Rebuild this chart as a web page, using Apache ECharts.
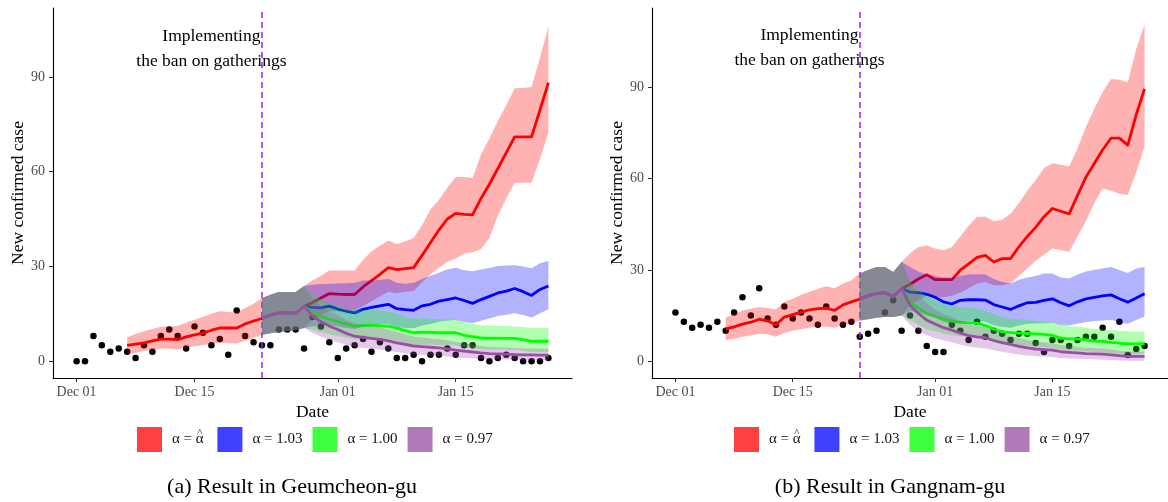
<!DOCTYPE html>
<html>
<head>
<meta charset="utf-8">
<script src="https://cdn.jsdelivr.net/npm/echarts@6/dist/echarts.min.js"></script>
<style>
  html, body { margin: 0; padding: 0; background: #fff; }
  #chart { width: 1168px; height: 502px; }
</style>
</head>
<body>
<div id="chart"></div>
<script>
// Days are counted from Dec 01 (day 0). Observations run to Jan 26 (day 56).
const tickDays = [0, 14, 31, 45];
const tickLabels = ['Dec 01', 'Dec 15', 'Jan 01', 'Jan 15'];
const yTicks = [0, 30, 60, 90];
const scenarioNames = ['α = α̂', 'α = 1.03', 'α = 1.00', 'α = 0.97'];
const banDay = 22;          // Dec 23
const fitStart = 6;         // first day of the fitted curve
const scenarioStart = 22;   // first day of the alternative scenarios

// ---- Geumcheon-gu ----
const geumCases = [0,0,8,5,3,4,3,1,5,3,8,10,8,4,11,9,5,7,2,16,8,6,5,5,10,10,10,4,14,11,6,1,4,5,7,3,6,4,1,1,2,0,2,2,4,2,5,5,1,0,1,2,1,0,0,0,1];

const geumFitMean = [5.0,5.4,5.8,6.4,7.0,7.0,6.8,7.7,8.3,8.9,9.8,10.5,10.5,10.5,11.8,12.7,13.5,14.6,15.3,15.4,15.1,17.4,18.6,20.0,21.4,21.2,21.1,21.1,23.5,25.5,27.5,29.6,29.0,29.3,29.6,33.5,37.5,41.5,45.0,46.8,46.5,46.3,51.5,56.0,61.0,66.0,71.0,71.0,71.0,79.5,88.2];
const geumFitLo = [2.3,2.7,3.2,3.6,4.0,4.0,3.7,4.3,4.7,5.0,5.5,5.8,5.7,5.6,6.5,7.3,8.3,8.8,9.2,9.5,9.8,10.5,13.0,14.5,15.8,15.8,15.8,16.0,17.5,19.0,20.5,22.0,21.5,22.0,22.2,25.0,27.5,29.5,31.5,32.5,34.0,34.5,35.5,39.0,46.0,51.5,56.5,56.5,56.5,64.0,72.3];
const geumFitHi = [7.6,8.6,9.5,10.2,10.9,11.0,11.1,12.2,13.1,14.0,15.0,15.8,15.6,15.3,16.8,18.2,20.0,21.0,21.9,21.9,21.9,23.8,25.5,27.0,28.7,28.7,28.7,28.7,32.0,34.8,36.5,38.2,37.0,38.0,39.0,43.0,48.0,51.0,55.0,58.3,58.3,58.0,65.5,70.5,76.0,81.0,86.4,86.5,86.8,96.0,106.0];

const geumA103Mean = [13.5,14.6,15.3,15.4,15.1,17.4,17.0,16.9,17.4,16.5,15.8,15.3,16.4,17.0,17.5,18.0,16.6,16.3,16.1,17.5,18.0,19.0,19.5,20.0,19.2,18.3,19.5,20.5,21.6,22.2,23.0,22.0,20.8,22.7,23.8];
const geumA103Lo = [8.3,8.8,9.2,9.5,9.8,10.5,11.0,11.2,11.5,11.0,10.5,10.2,10.8,11.2,11.5,11.8,10.8,10.5,10.4,11.3,11.8,12.5,12.8,13.0,12.4,12.0,12.8,13.5,14.3,14.7,15.2,14.6,13.8,15.2,16.4];
const geumA103Hi = [20.0,21.0,21.9,21.9,21.9,23.8,24.2,24.4,24.5,24.6,24.7,24.8,25.5,25.5,25.8,26.0,24.8,24.5,24.8,26.0,27.0,28.0,29.0,29.6,28.8,28.5,29.0,29.5,30.1,30.3,30.4,30.0,29.4,31.0,31.7];

const geumA100Mean = [13.5,14.6,15.3,15.4,15.1,17.4,15.3,14.2,13.2,12.5,11.8,11.1,11.3,11.4,11.2,11.1,10.5,9.7,9.0,9.2,9.1,9.0,9.0,9.0,8.2,7.8,7.4,7.3,7.3,7.2,7.2,6.8,6.3,6.3,6.3];
const geumA100Lo = [8.3,8.8,9.2,9.5,9.8,10.5,10.0,9.2,8.5,8.0,7.5,6.9,7.0,7.1,6.9,6.8,6.3,5.7,5.1,5.3,5.2,5.1,5.0,5.0,4.4,4.1,3.8,3.7,3.7,3.6,3.6,3.3,2.9,2.9,2.9];
const geumA100Hi = [20.0,21.0,21.9,21.9,21.9,23.8,21.0,19.5,18.2,17.5,16.5,16.0,16.2,16.3,16.0,15.8,15.0,14.0,13.5,13.6,13.5,13.3,13.2,13.2,12.3,11.8,11.4,11.3,11.2,11.1,11.0,10.8,10.5,10.5,10.6];

const geumA097Mean = [13.5,14.6,15.3,15.4,15.1,17.4,14.3,12.5,11.1,10.0,8.8,7.9,7.5,7.2,6.9,6.4,5.8,5.3,4.8,4.6,4.4,4.2,3.9,3.5,3.2,2.9,2.6,2.4,2.3,2.2,2.1,2.0,2.0,1.9,1.9];
const geumA097Lo = [8.3,8.8,9.2,9.5,9.8,10.5,9.0,7.8,6.8,6.0,5.2,4.5,4.2,4.0,3.7,3.3,2.9,2.5,2.1,2.0,1.8,1.7,1.5,1.2,1.0,0.9,0.7,0.6,0.6,0.5,0.5,0.4,0.4,0.4,0.4];
const geumA097Hi = [20.0,21.0,21.9,21.9,21.9,23.8,20.0,17.5,15.8,14.5,13.0,12.0,11.5,11.1,10.7,10.0,9.2,8.5,7.8,7.5,7.2,7.0,6.6,6.1,5.7,5.2,4.8,4.5,4.4,4.3,4.2,4.0,4.0,3.9,3.9];

// ---- Gangnam-gu ----
const gangCases = [16,13,11,12,11,13,10,16,21,15,24,14,12,18,14,16,14,12,18,14,12,13,8,9,10,16,20,10,15,10,5,3,3,12,10,7,13,8,10,9,7,9,9,6,3,7,7,5,7,8,8,11,8,13,2,4,5];

const gangFitMean = [10.6,11.3,12.2,12.8,13.8,13.2,12.0,14.5,15.3,16.1,16.9,17.3,17.4,16.7,18.5,19.5,20.4,21.5,22.2,22.5,21.3,23.8,25.3,27.0,28.4,26.8,26.8,26.8,29.9,32.0,34.1,34.8,32.6,33.7,33.7,37.6,41.0,44.0,47.5,50.2,49.3,48.4,54.5,60.5,65.0,69.5,73.3,73.3,71.0,81.0,89.5];
const gangFitLo = [7.0,7.4,8.0,8.4,9.0,8.8,8.0,9.3,10.0,10.5,11.0,11.2,11.4,11.0,12.0,12.5,13.4,13.8,14.3,14.5,14.5,15.0,18.5,20.0,21.5,21.0,21.0,21.5,22.5,24.0,25.5,26.0,25.0,25.0,25.5,28.0,30.5,33.0,35.0,37.0,36.5,36.0,41.0,46.0,52.0,56.8,56.0,55.0,54.6,62.0,70.6];
const gangFitHi = [14.3,15.5,16.7,17.2,17.8,17.5,17.0,19.5,20.5,21.8,22.8,23.8,24.6,24.0,25.5,26.6,28.8,30.0,31.0,31.0,29.3,32.6,35.5,37.5,38.0,37.0,36.5,37.5,41.0,44.5,47.5,47.5,46.0,46.5,48.5,52.0,56.0,59.5,63.5,65.1,64.6,64.0,70.0,77.0,83.0,88.5,92.8,92.5,91.7,102.5,110.6];

const gangA103Mean = [20.4,21.5,22.2,22.5,21.3,23.8,22.7,22.5,22.0,21.0,19.5,18.8,20.0,20.2,20.2,20.1,18.6,17.8,17.0,18.2,19.2,19.3,20.0,20.5,19.2,18.2,19.5,20.5,21.0,21.5,21.8,20.5,19.4,20.8,22.2];
const gangA103Lo = [13.4,13.8,14.3,14.5,14.5,15.0,16.5,16.0,15.3,14.2,13.0,12.3,13.2,13.3,13.2,13.0,11.8,11.2,11.0,11.7,12.3,12.4,12.5,12.6,11.8,11.7,12.3,12.9,13.2,13.4,13.6,12.8,12.3,13.5,14.7];
const gangA103Hi = [28.8,30.0,31.0,31.0,29.3,32.6,31.0,29.5,28.5,28.0,27.5,27.5,28.0,28.5,28.6,28.6,27.0,26.0,25.5,26.8,27.5,28.0,28.8,28.8,27.5,27.2,28.5,29.5,30.0,30.5,31.0,30.0,29.0,30.5,31.0];

const gangA100Mean = [20.4,21.5,22.2,22.5,21.3,23.8,19.5,17.5,15.6,14.8,13.8,13.2,12.8,12.7,12.5,11.7,10.5,9.6,9.4,9.2,9.1,9.0,8.8,8.5,7.6,7.3,7.3,7.0,6.6,6.5,6.2,5.9,5.7,5.7,5.8];
const gangA100Lo = [13.4,13.8,14.3,14.5,14.5,15.0,13.5,12.0,10.5,9.8,9.0,8.5,8.2,8.0,7.8,7.2,6.2,5.5,5.2,5.0,4.9,4.8,4.6,4.4,3.8,3.6,3.5,3.3,3.0,2.9,2.7,2.5,2.4,2.4,2.5];
const gangA100Hi = [28.8,30.0,31.0,31.0,29.3,32.6,26.0,23.5,21.5,20.0,19.0,18.3,17.8,17.5,17.2,16.5,15.5,14.5,14.0,13.8,13.5,13.2,13.0,12.7,11.8,11.5,11.4,11.0,10.6,10.5,10.2,10.0,9.8,9.7,9.8];

const gangA097Mean = [20.4,21.5,22.2,22.5,21.3,23.8,18.5,15.7,13.5,12.2,11.0,10.2,9.2,8.4,8.0,7.7,6.8,6.1,5.5,4.9,4.4,4.0,3.8,3.6,3.1,2.9,2.7,2.5,2.4,2.3,2.1,1.8,1.6,1.6,1.6];
const gangA097Lo = [13.4,13.8,14.3,14.5,14.5,15.0,12.0,10.0,8.5,7.5,6.8,6.2,5.4,4.8,4.4,4.2,3.6,3.1,2.6,2.2,1.9,1.6,1.5,1.4,1.0,0.9,0.8,0.7,0.6,0.5,0.4,0.2,0.1,0.1,0.1];
const gangA097Hi = [28.8,30.0,31.0,31.0,29.3,32.6,26.0,22.0,19.0,17.0,15.5,14.5,13.2,12.2,11.7,11.2,10.0,9.2,8.4,7.6,7.0,6.5,6.2,5.9,5.2,5.0,4.7,4.4,4.3,4.2,3.9,3.5,3.2,3.2,3.2];

// ---- styling ----
const FONT = "'Liberation Serif', 'DejaVu Serif', serif";
const lineColors = ['#ff0000', '#0000ff', '#00ff00', '#9b4ea8'];
const bandColors = ['rgba(255,0,0,0.3)', 'rgba(0,0,255,0.3)', 'rgba(0,255,0,0.3)', 'rgba(155,78,168,0.3)'];
const legendColors = ['#ff4040', '#4040ff', '#40ff40', '#b07ab8'];
const LEGEND_FONT_SIZE = 15;

const panels = [
  {
    cases: geumCases, yMin: -5.33, yMax: 111.8, annoY: 98.7,
    caption: '(a) Result in Geumcheon-gu', captionX: 292, legendLeft: 137,
    grid: { left: 53, top: 8, width: 519, height: 370 },
    sets: [
      { start: fitStart, mean: geumFitMean, lo: geumFitLo, hi: geumFitHi },
      { start: scenarioStart, mean: geumA103Mean, lo: geumA103Lo, hi: geumA103Hi },
      { start: scenarioStart, mean: geumA100Mean, lo: geumA100Lo, hi: geumA100Hi },
      { start: scenarioStart, mean: geumA097Mean, lo: geumA097Lo, hi: geumA097Hi }
    ]
  },
  {
    cases: gangCases, yMin: -5.53, yMax: 116.1, annoY: 103.0,
    caption: '(b) Result in Gangnam-gu', captionX: 890, legendLeft: 734,
    grid: { left: 652, top: 8, width: 518, height: 370 },
    sets: [
      { start: fitStart, mean: gangFitMean, lo: gangFitLo, hi: gangFitHi },
      { start: scenarioStart, mean: gangA103Mean, lo: gangA103Lo, hi: gangA103Hi },
      { start: scenarioStart, mean: gangA100Mean, lo: gangA100Lo, hi: gangA100Hi },
      { start: scenarioStart, mean: gangA097Mean, lo: gangA097Lo, hi: gangA097Hi }
    ]
  }
];

// Uncertainty band: one polygon from the upper bound forward and the lower bound back.
function bandSeries(pi, si, s, z) {
  return {
    name: scenarioNames[si],
    type: 'custom', xAxisIndex: pi, yAxisIndex: pi, z, silent: true,
    data: s.hi.map((v, i) => [s.start + i, s.lo[i], v]),
    encode: { x: 0, y: [1, 2] },
    renderItem: (params, api) => {
      if (params.dataIndex !== 0) return null;
      const top = s.hi.map((v, i) => api.coord([s.start + i, v]));
      const bottom = s.lo.map((v, i) => api.coord([s.start + i, v])).reverse();
      return {
        type: 'polygon',
        shape: { points: top.concat(bottom) },
        style: { fill: bandColors[si] }
      };
    }
  };
}

// Where the hat over the estimated alpha sits in the first legend entry.
const measureCtx = document.createElement('canvas').getContext('2d');
measureCtx.font = LEGEND_FONT_SIZE + "px 'Liberation Serif'";
const hatOffset = 25 + 10 + measureCtx.measureText('α = ').width + measureCtx.measureText('α').width / 2;

const grids = [], xAxes = [], yAxes = [], series = [], legends = [], texts = [];

panels.forEach((p, pi) => {
  grids.push(Object.assign({ containLabel: false }, p.grid));

  xAxes.push({
    type: 'value', gridIndex: pi, min: -2.8, max: 58.8,
    splitLine: { show: false },
    axisLine: { onZero: false, lineStyle: { color: '#000', width: 1.1 } },
    axisTick: { customValues: tickDays, length: 4, lineStyle: { color: '#333', width: 1 } },
    axisLabel: {
      customValues: tickDays, margin: 7, color: '#4d4d4d', fontFamily: FONT, fontSize: 14,
      formatter: v => tickLabels[tickDays.indexOf(Math.round(v))] || ''
    },
    name: 'Date', nameLocation: 'middle', nameGap: 21,
    nameTextStyle: { fontFamily: FONT, fontSize: 17.5, color: '#000' }
  });

  yAxes.push({
    type: 'value', gridIndex: pi, min: p.yMin, max: p.yMax,
    splitLine: { show: false },
    axisLine: { show: true, onZero: false, lineStyle: { color: '#000', width: 1.1 } },
    axisTick: { show: true, customValues: yTicks, length: 4, lineStyle: { color: '#333', width: 1 } },
    axisLabel: { customValues: yTicks, margin: 8, color: '#4d4d4d', fontFamily: FONT, fontSize: 14 },
    name: 'New confirmed case', nameLocation: 'middle', nameGap: 26,
    nameTextStyle: { fontFamily: FONT, fontSize: 17.5, color: '#000' }
  });

  // observed daily counts (drawn first so the bands tint them)
  series.push({
    type: 'scatter', xAxisIndex: pi, yAxisIndex: pi, z: 1, silent: true,
    symbol: 'circle', symbolSize: 6.5, itemStyle: { color: '#000', opacity: 1 },
    data: p.cases.map((v, i) => [i, v])
  });

  p.sets.forEach((s, si) => {
    const z = 2 + si * 2;
    series.push(bandSeries(pi, si, s, z));
    series.push({
      name: scenarioNames[si],
      type: 'line', xAxisIndex: pi, yAxisIndex: pi, z: z + 1, silent: true,
      symbol: 'none', lineStyle: { color: lineColors[si], width: 2.8, join: 'round' },
      data: s.mean.map((v, i) => [s.start + i, v])
    });
  });

  // intervention marker and its note
  series.push({
    type: 'line', xAxisIndex: pi, yAxisIndex: pi, z: 20, silent: true, data: [],
    markLine: {
      silent: true, symbol: ['none', 'none'], animation: false,
      label: { show: false },
      lineStyle: { color: '#a020f0', type: [6, 4], width: 1.5 },
      data: [{ xAxis: banDay }]
    },
    markPoint: {
      silent: true, symbol: 'rect', symbolSize: 1, animation: false,
      itemStyle: { color: 'rgba(0,0,0,0)' },
      label: {
        show: true, position: 'inside', formatter: 'Implementing\nthe ban on gatherings',
        fontFamily: FONT, fontSize: 17.5, lineHeight: 25, color: '#000', align: 'center'
      },
      data: [{ coord: [16, p.annoY] }]
    }
  });

  legends.push({
    left: p.legendLeft, top: 427, orient: 'horizontal', padding: 0,
    itemWidth: 25, itemHeight: 25, itemGap: 10, icon: 'rect', selectedMode: false,
    textStyle: { fontFamily: FONT, fontSize: LEGEND_FONT_SIZE, color: '#111', padding: [0, 0, 0, 5] },
    formatter: name => name === scenarioNames[0] ? 'α = α ' : name,
    data: scenarioNames.map((n, i) => ({ name: n, icon: 'rect', itemStyle: { color: legendColors[i], borderWidth: 0 } }))
  });

  // hat over the estimated alpha
  texts.push({
    type: 'text', x: p.legendLeft + hatOffset, y: 428, z: 50,
    style: { text: '^', font: "11px 'Liberation Serif'", fill: '#111', align: 'center', verticalAlign: 'top' }
  });

  texts.push({
    type: 'text', x: p.captionX, y: 476,
    style: { text: p.caption, font: '22px ' + FONT, fill: '#000', align: 'center', verticalAlign: 'top' }
  });
});

const chart = echarts.init(document.getElementById('chart'), null, { renderer: 'canvas' });
chart.setOption({
  animation: false,
  backgroundColor: '#fff',
  grid: grids,
  xAxis: xAxes,
  yAxis: yAxes,
  legend: legends,
  series: series,
  graphic: texts
});
</script>
</body>
</html>
